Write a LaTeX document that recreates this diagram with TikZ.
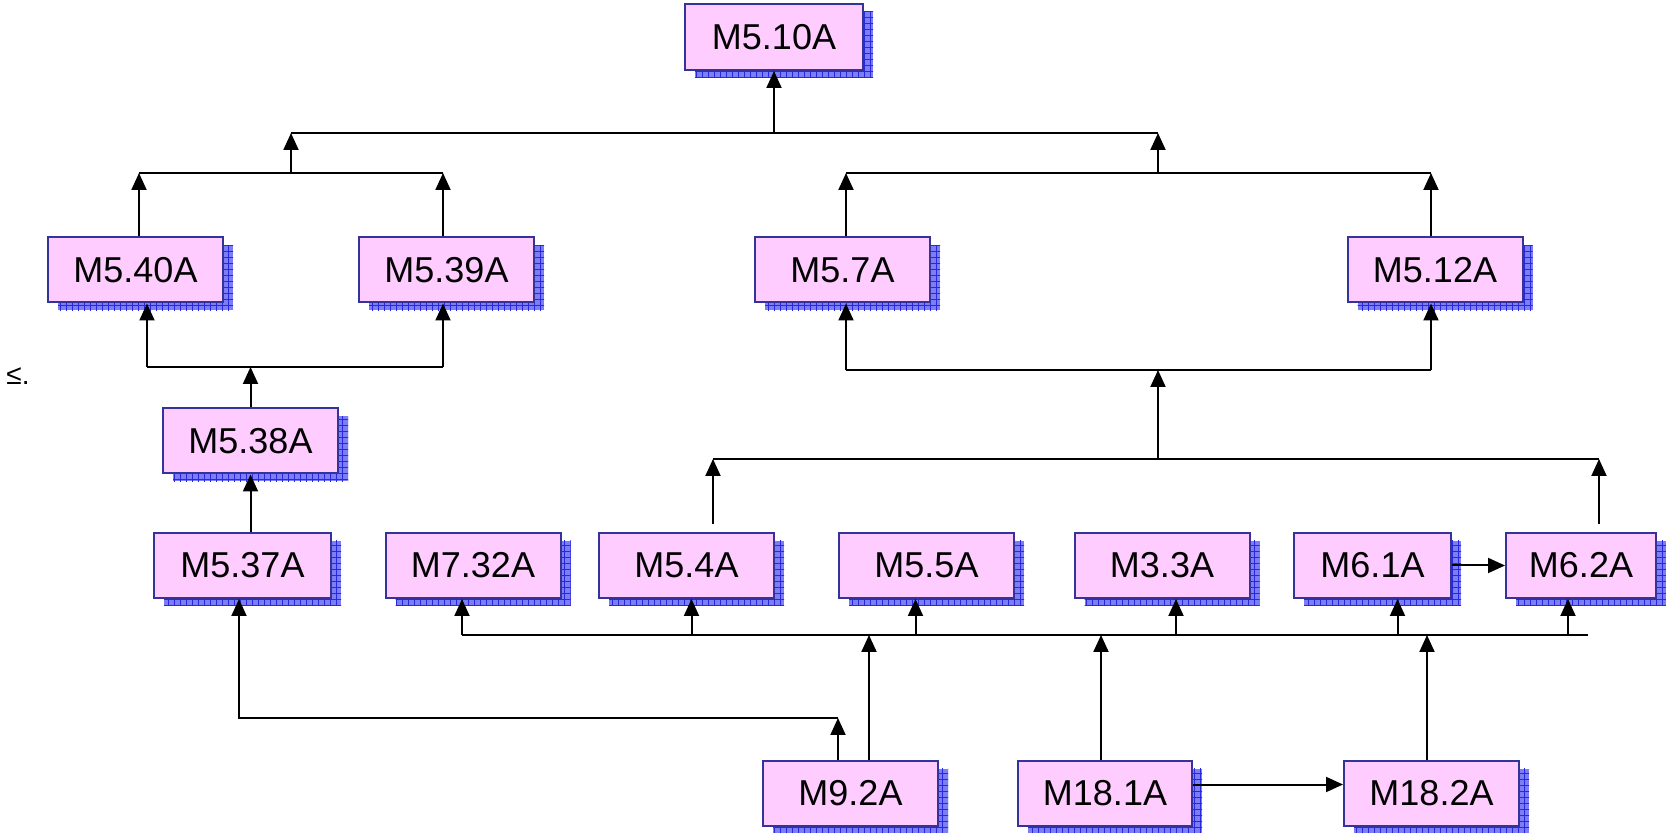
\documentclass[tikz,border=0pt]{standalone}
\usepackage{fontspec}
\setmainfont{Liberation Sans}
\usetikzlibrary{shadows, calc, positioning, patterns, arrows.meta}

\definecolor{mpink}{RGB}{255,204,255}
\definecolor{mblue}{RGB}{51,51,153}
\definecolor{mshade}{RGB}{125,125,245}
\definecolor{mgrid}{RGB}{40,40,225}

\begin{document}
\begin{tikzpicture}[x=0.5pt, y=-0.5pt,
    mbox/.style={draw=mblue, line width=1pt, fill=mpink, minimum width=87.5pt,
      minimum height=32.5pt, inner sep=0pt, font=\fontsize{18}{20}\selectfont,
      general shadow={shadow xshift=5pt, shadow yshift=-4pt, fill=mshade},
      general shadow={shadow xshift=5pt, shadow yshift=-4pt, pattern=grid, pattern color=mgrid}},
    arr/.style={-{Triangle[length=8.5pt,width=7.5pt]}, line width=1pt},
    bus/.style={line width=1pt}]
  \useasboundingbox (0,0) rectangle (1666,833);

  % Top level
  \node[mbox, minimum width=89pt, minimum height=33pt] (m5-10a) at (774,37) {M5.10A};

  % Second row
  \node[mbox] (m5-40a) at (135.5,270) {M5.40A};
  \node[mbox] (m5-39a) at (446.5,270) {M5.39A};
  \node[mbox] (m5-7a) at (842.5,270) {M5.7A};
  \node[mbox] (m5-12a) at (1435,270) {M5.12A};

  % Left column
  \node[mbox] (m5-38a) at (250.5,441) {M5.38A};

  % Third row
  \node[mbox, minimum width=88.5pt] (m5-37a) at (242.5,565.5) {M5.37A};
  \node[mbox] (m7-32a) at (473,565.5) {M7.32A};
  \node[mbox] (m5-4a) at (686.5,565.5) {M5.4A};
  \node[mbox] (m5-5a) at (926.5,565.5) {M5.5A};
  \node[mbox] (m3-3a) at (1162,565.5) {M3.3A};
  \node[mbox, minimum width=78.5pt] (m6-1a) at (1372.5,565.5) {M6.1A};
  \node[mbox, minimum width=75pt] (m6-2a) at (1581,565.5) {M6.2A};

  % Bottom row
  \node[mbox] (m9-2a) at (850.5,793.5) {M9.2A};
  \node[mbox, minimum width=87pt] (m18-1a) at (1105,793.5) {M18.1A};
  \node[mbox] (m18-2a) at (1431.5,793.5) {M18.2A};

  % Stray mark on the left
  \node[font=\fontsize{14}{16}\selectfont, inner sep=0pt] (mark) at (18,376) {≤.};

  % Bus lines
  \coordinate (top-bus-l) at (291,133);
  \coordinate (top-bus-r) at (1158,133);
  \coordinate (lbus-l) at (139,173);
  \coordinate (lbus-r) at (443,173);
  \coordinate (rbus-l) at (846,173);
  \coordinate (rbus-r) at (1431,173);
  \coordinate (lmid-l) at (147,367);
  \coordinate (lmid-r) at (443,367);
  \coordinate (rmid-l) at (846,370);
  \coordinate (rmid-r) at (1431,370);
  \coordinate (lowbus-l) at (713,459);
  \coordinate (lowbus-r) at (1599,459);
  \coordinate (bbus-l) at (462,635);
  \coordinate (bbus-r) at (1588,635);
  \coordinate (lbend) at (239,718);

  \draw[bus] (top-bus-l) -- (top-bus-r);
  \draw[bus] (lbus-l) -- (lbus-r);
  \draw[bus] (rbus-l) -- (rbus-r);
  \draw[bus] (lmid-l) -- (lmid-r);
  \draw[bus] (rmid-l) -- (rmid-r);
  \draw[bus] (lowbus-l) -- (lowbus-r);
  \draw[bus] (bbus-l) -- (bbus-r);

  % Upper tree
  \draw[arr] (m5-10a.south |- top-bus-l) -- (m5-10a.south);
  \draw[arr] (lbus-l -| top-bus-l) -- (top-bus-l);
  \draw[arr] (rbus-l -| top-bus-r) -- (top-bus-r);
  \draw[arr] (m5-40a.north -| lbus-l) -- (lbus-l);
  \draw[arr] (m5-39a.north -| lbus-r) -- (lbus-r);
  \draw[arr] (m5-7a.north -| rbus-l) -- (rbus-l);
  \draw[arr] (m5-12a.north -| rbus-r) -- (rbus-r);

  % Left branch
  \draw[arr] (lmid-l) -- (m5-40a.south -| lmid-l);
  \draw[arr] (lmid-r) -- (m5-39a.south -| lmid-r);
  \draw[arr] (m5-38a.north) -- (m5-38a.north |- lmid-l);
  \draw[arr] (m5-37a.north -| m5-38a.south) -- (m5-38a.south);

  % Right branch
  \draw[arr] (rmid-l) -- (m5-7a.south -| rmid-l);
  \draw[arr] (rmid-r) -- (m5-12a.south -| rmid-r);
  \draw[arr] (lowbus-l -| top-bus-r) -- (rmid-l -| top-bus-r);
  \draw[arr] ($(m5-4a.north -| lowbus-l)+(0,-8)$) -- (lowbus-l);
  \draw[arr] ($(m6-2a.north -| lowbus-r)+(0,-8)$) -- (lowbus-r);

  % Lower bus into third row
  \draw[arr] (bbus-l) -- (m7-32a.south -| bbus-l);
  \foreach \n/\dx in {m5-4a/5, m5-5a/-11, m3-3a/14, m6-1a/25, m6-2a/-13} {
    \coordinate (tap) at ($(\n.south)+(\dx,0)$);
    \draw[arr] (tap |- bbus-l) -- (tap);
  }
  \draw[arr] (m6-1a.east) -- (m6-2a.west);

  % Bottom row into lower bus
  \foreach \n/\dx in {m9-2a/18.5, m18-1a/-4, m18-2a/-4.5} {
    \coordinate (tap) at ($(\n.north)+(\dx,0)$);
    \draw[arr] (tap) -- (tap |- bbus-l);
  }
  \coordinate (m92-tap) at ($(m9-2a.north)+(-12.5,0)$);
  \draw[arr] (m92-tap) -- (m92-tap |- lbend);
  \draw[arr] (m92-tap |- lbend) -- (lbend) -- (m5-37a.south -| lbend);
  \draw[arr] ($(m18-1a.east)+(0,-9)$) -- ($(m18-2a.west)+(0,-9)$);
\end{tikzpicture}
\end{document}
